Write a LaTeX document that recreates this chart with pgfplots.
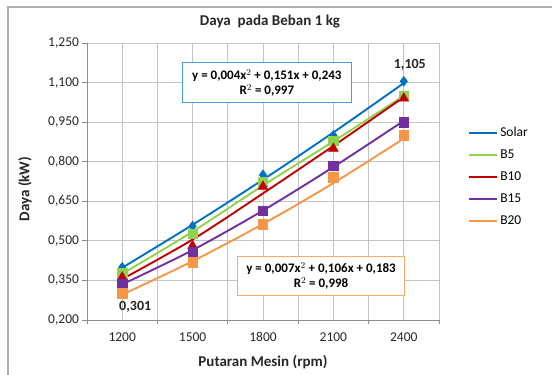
\documentclass[border=0pt]{standalone}
\usepackage{fontspec}
\setmainfont{Carlito}
\usepackage{pgfplots}
\pgfplotsset{compat=1.18}

\definecolor{cSolar}{HTML}{0070C0}
\definecolor{cBfive}{HTML}{92D050}
\definecolor{cBten}{HTML}{C00000}
\definecolor{cBfifteen}{HTML}{7030A0}
\definecolor{cBtwenty}{HTML}{F79646}
\definecolor{gridc}{HTML}{C4C4C4}
\definecolor{axisc}{HTML}{8C8C8C}

\begin{document}
\begin{tikzpicture}
\path[use as bounding box] (0pt,0pt) rectangle (552pt,375pt);
% outer chart frame
\draw[axisc!70, line width=1.2pt] (8pt,-2pt) -- (8pt,368pt) -- (556pt,368pt);

\begin{axis}[
  at={(87pt,55pt)}, anchor=south west,
  scale only axis, width=352pt, height=277pt,
  xmin=-0.5, xmax=4.5, ymin=0.2, ymax=1.25,
  xtick={-0.5,0.5,1.5,2.5,3.5,4.5}, xticklabels={},
  extra x ticks={0,1,2,3,4},
  extra x tick labels={1200,1500,1800,2100,2400},
  extra x tick style={major tick length=0pt, grid=major,
     xticklabel style={yshift=-9pt}},
  ytick={0.2,0.35,0.5,0.65,0.8,0.95,1.1,1.25},
  yticklabel={\pgfmathprintnumber[fixed,fixed zerofill,precision=3,use comma]{\tick}},
  /pgf/number format/assume math mode=true,
  ticklabel style={font=\fontsize{13.5}{15}\selectfont, text=black!85},
  xmajorgrids, ymajorgrids,
  grid style={gridc, line width=0.8pt},
  axis x line*=bottom, axis y line*=left,
  axis line style={axisc, line width=0.9pt},
  tick style={axisc, line width=0.9pt},
  tick align=outside, major tick length=4.5pt,
  legend style={at={(1.074,0.71)}, anchor=north west, draw=none, fill=none,
     font=\fontsize{13.5}{15}\selectfont, row sep=7.6pt,
     /tikz/every even column/.append style={column sep=1pt}},
  legend cell align=left,
  legend image code/.code={\draw[#1, line width=2pt] (0pt,0pt) -- (28pt,0pt);},
  clip=false,
]
% fitted trend lines
\addplot[cSolar, line width=1.9pt, smooth] coordinates {(0,0.398) (1,0.561) (2,0.732) (3,0.911) (4,1.098)};
\addlegendentry{Solar}
\addplot[cBfive, line width=1.9pt, smooth] coordinates {(0,0.375) (1,0.535) (2,0.710) (3,0.877) (4,1.050)};
\addlegendentry{B5}
\addplot[cBten, line width=1.9pt, smooth] coordinates {(0,0.355) (1,0.505) (2,0.680) (3,0.860) (4,1.045)};
\addlegendentry{B10}
\addplot[cBfifteen, line width=1.9pt, smooth] coordinates {(0,0.335) (1,0.465) (2,0.615) (3,0.780) (4,0.955)};
\addlegendentry{B15}
\addplot[cBtwenty, line width=1.9pt, smooth] coordinates {(0,0.296) (1,0.423) (2,0.564) (3,0.719) (4,0.888)};
\addlegendentry{B20}

% measured points
\addplot[only marks, mark=diamond*, mark size=5pt, color=cSolar, forget plot]
  coordinates {(0,0.400) (1,0.556) (2,0.750) (3,0.900) (4,1.105)};
\addplot[only marks, mark=square*, mark size=4.7pt, color=cBfive, forget plot]
  coordinates {(0,0.377) (1,0.526) (2,0.725) (3,0.880) (4,1.051)};
\addplot[only marks, mark=triangle*, mark size=5.7pt, color=cBten, forget plot]
  coordinates {(0,0.362) (1,0.481) (2,0.706) (3,0.850) (4,1.040)};
\addplot[only marks, mark=square*, mark size=4.7pt, color=cBfifteen, forget plot]
  coordinates {(0,0.338) (1,0.459) (2,0.615) (3,0.785) (4,0.950)};
\addplot[only marks, mark=square*, mark size=4.7pt, color=cBtwenty, forget plot]
  coordinates {(0,0.301) (1,0.419) (2,0.563) (3,0.741) (4,0.900)};

% value labels
\node[font=\bfseries\fontsize{14}{16}\selectfont, text=black!85]
  at ([xshift=6pt,yshift=16pt]axis cs:4,1.105) {1,105};
\node[font=\bfseries\fontsize{14}{16}\selectfont, text=black!85]
  at ([xshift=13pt,yshift=-14pt]axis cs:0,0.301) {0,301};

% trend equations
\node[draw=cSolar!70, fill=white, line width=0.9pt, align=center,
      font=\bfseries\fontsize{13}{15}\selectfont, inner xsep=5pt, inner ysep=3pt,
      minimum width=169pt, minimum height=40pt]
  at (rel axis cs:0.511,0.856) {y = 0,004x$^{2}$ + 0,151x + 0,243\\R$^{2}$ = 0,997};
\node[draw=cBtwenty!80, fill=white, line width=0.9pt, align=center,
      font=\bfseries\fontsize{13}{15}\selectfont, inner xsep=5pt, inner ysep=3pt,
      minimum width=167pt, minimum height=39pt]
  at (rel axis cs:0.665,0.159) {y = 0,007x$^{2}$ + 0,106x + 0,183\\R$^{2}$ = 0,998};
\end{axis}

% titles
\node[font=\bfseries\fontsize{15}{17}\selectfont, text=black!85] at (270pt,353pt) {Daya\ \ pada Beban 1 kg};
\node[font=\bfseries\fontsize{15}{17}\selectfont, text=black!85, rotate=90] at (25pt,186pt) {Daya (kW)};
\node[font=\bfseries\fontsize{15}{17}\selectfont, text=black!85] at (263pt,13pt) {Putaran Mesin (rpm)};
\end{tikzpicture}
\end{document}
